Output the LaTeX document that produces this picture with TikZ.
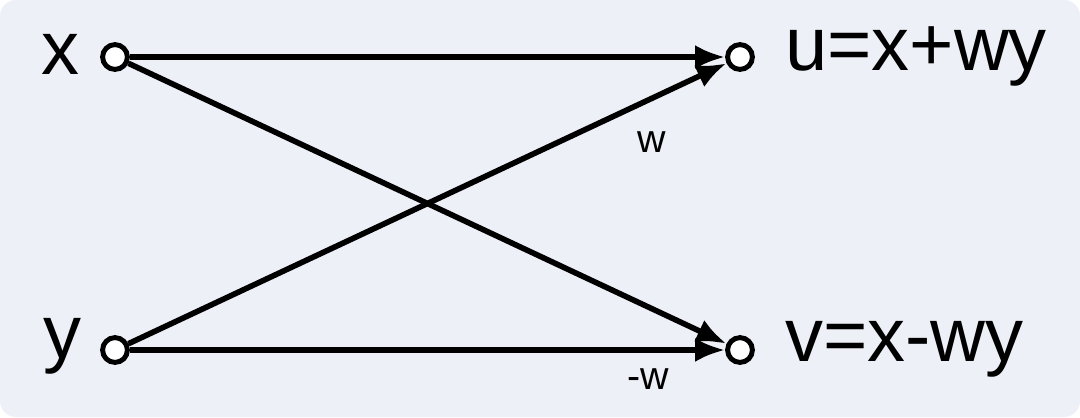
\documentclass[tikz,border=0pt]{standalone}
\usepackage{fontspec}
\setmainfont{Liberation Sans}
\usetikzlibrary{arrows.meta}
\begin{document}
\begin{tikzpicture}[x=0.025cm,y=-0.025cm,
  port/.style={circle,draw,line width=3.5pt,minimum size=0.62cm,inner sep=0pt,fill=white},
  big/.style={font=\fontsize{54}{60}\selectfont,inner sep=0pt},
  small/.style={font=\fontsize{28}{32}\selectfont,inner sep=0pt},
  conn/.style={line width=4pt,-{Latex[length=0.75cm,width=0.6cm]}}]
\fill[rounded corners=0.4cm,fill={rgb,255:red,238;green,240;blue,248}] (0,0) rectangle (1080,417);
\useasboundingbox (0,0) rectangle (1080,417);
\node[port] (x) at (115,57) {};
\node[port] (y) at (115,350) {};
\node[port] (u) at (740,57) {};
\node[port] (v) at (740,350) {};
\node[big,anchor=east] (lx) at (80,54) {x};
\node[big,anchor=east] (ly) at (82,346) {y};
\node[big,anchor=west] (lu) at (785,56) {u=x+wy};
\node[big,anchor=west] (lv) at (785,349) {v=x-wy};
\node[small] (w1) at (652,142) {w};
\node[small] (w2) at (648,379) {-w};
\draw[conn] (x) -- (u);
\draw[conn] (x) -- (v);
\draw[conn] (y) -- (u);
\draw[conn] (y) -- (v);
\end{tikzpicture}
\end{document}
